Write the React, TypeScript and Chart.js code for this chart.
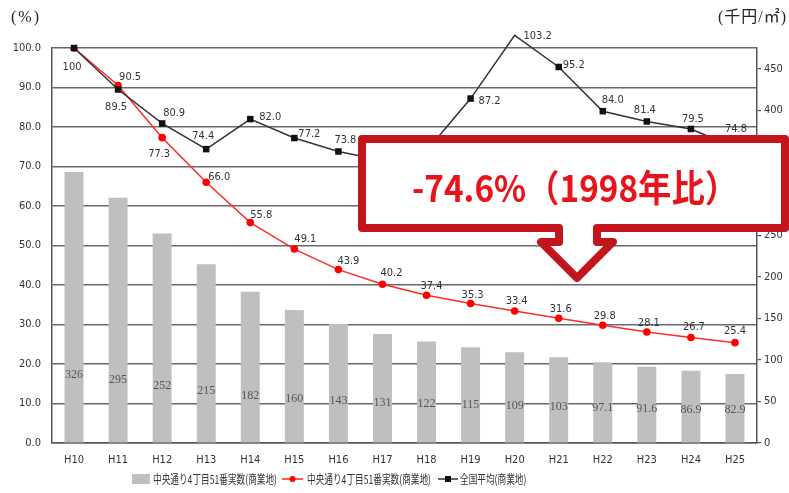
import React, { useEffect, useRef } from "react";
import { Chart, registerables } from "chart.js";

Chart.register(...registerables);

const categories = ["H10", "H11", "H12", "H13", "H14", "H15", "H16", "H17", "H18", "H19", "H20", "H21", "H22", "H23", "H24", "H25"];
const barValues = [326, 295, 252, 215, 182, 160, 143, 131, 122, 115, 109, 103, 97.1, 91.6, 86.9, 82.9];
const barLabels = ["326", "295", "252", "215", "182", "160", "143", "131", "122", "115", "109", "103", "97.1", "91.6", "86.9", "82.9"];
const redValues = [100, 90.5, 77.3, 66.0, 55.8, 49.1, 43.9, 40.2, 37.4, 35.3, 33.4, 31.6, 29.8, 28.1, 26.7, 25.4];
const blackValues = [100, 89.5, 80.9, 74.4, 82.0, 77.2, 73.8, 71.5, 74.0, 87.2, 103.2, 95.2, 84.0, 81.4, 79.5, 74.8];
const leftTicks = [0, 10, 20, 30, 40, 50, 60, 70, 80, 90, 100];
const rightTicks = [0, 50, 100, 150, 200, 250, 300, 350, 400, 450];

const legendBar = "中央通り4丁目51番実数(商業地)";
const legendRed = "中央通り4丁目51番実数(商業地)";
const legendBlack = "全国平均(商業地)";
const calloutText = "-74.6%（1998年比）";

// label placement (pixel offsets from the point)
const blackDx = [-2, -2, 12, -3, 20, 15, 7, 10, 10, 19, 23, 15, 10, -2, 2, 1];
const blackDy = [19, 18, -10, -13, -2, -4, -11, -11, -11, 3, 1, -2, -11, -11, -10, -18];
const redDx = [0, 12, -3, 13, 11, 11, 10, 9, 5, 2, 2, 2, 2, 2, 3, 0];
const redDy = [0, -8, 16, -5, -7, -10, -8, -11, -9, -8, -10, -9, -9, -9, -10, -12];

const NARROW = "'Liberation Sans Narrow', 'DejaVu Sans Condensed', 'Liberation Sans', sans-serif";
const CJK = "'Noto Sans CJK JP', 'Noto Sans', sans-serif";

const labelPlugin = {
  id: "labels",
  afterDatasetsDraw(chart: any) {
    const ctx = chart.ctx;
    const xs = chart.scales.x;
    const y = chart.scales.y;
    const y1 = chart.scales.y1;
    ctx.save();
    // bar labels
    ctx.font = "12px 'Liberation Serif', serif";
    ctx.fillStyle = "#555";
    ctx.textAlign = "center";
    ctx.textBaseline = "middle";
    barValues.forEach((v, i) => {
      const px = xs.getPixelForValue(i);
      const py = y1.getPixelForValue(25.4 + 0.173 * v);
      ctx.fillText(barLabels[i], px, py);
    });
    ctx.font = "11px " + NARROW;
    ctx.fillStyle = "#333";
    redValues.forEach((v, i) => {
      if (i === 0) return;
      const px = xs.getPixelForValue(i) + redDx[i];
      const py = y.getPixelForValue(v) + redDy[i];
      ctx.fillText(v.toFixed(1), px, py);
    });
    blackValues.forEach((v, i) => {
      const px = xs.getPixelForValue(i) + blackDx[i];
      const py = y.getPixelForValue(v) + blackDy[i];
      ctx.fillText(i === 0 ? "100" : v.toFixed(1), px, py);
    });
    ctx.restore();
  },
  afterDraw(chart: any) {
    const ctx = chart.ctx;
    ctx.save();
    // callout box + arrow
    ctx.beginPath();
    ctx.moveTo(362, 139);
    ctx.lineTo(785, 139);
    ctx.lineTo(785, 228);
    ctx.lineTo(597, 228);
    ctx.lineTo(597, 242);
    ctx.lineTo(613, 242);
    ctx.lineTo(577, 278);
    ctx.lineTo(541, 242);
    ctx.lineTo(559, 242);
    ctx.lineTo(559, 228);
    ctx.lineTo(362, 228);
    ctx.closePath();
    ctx.fillStyle = "#ffffff";
    ctx.fill();
    ctx.lineWidth = 8;
    ctx.lineJoin = "round";
    ctx.strokeStyle = "#c3161c";
    ctx.stroke();

    ctx.font = "bold 37px " + CJK;
    ctx.fillStyle = "#e8141c";
    ctx.textAlign = "left";
    ctx.textBaseline = "alphabetic";
    const w = ctx.measureText(calloutText).width;
    const sx = 326 / w;
    ctx.save();
    ctx.translate(412, 202);
    ctx.scale(sx, 1);
    ctx.fillText(calloutText, 0, 0);
    ctx.restore();

    // axis titles
    ctx.fillStyle = "#222";
    ctx.font = "16px 'Liberation Serif', 'Noto Sans CJK JP', serif";
    ctx.textBaseline = "middle";
    ctx.textAlign = "left";
    (ctx as any).letterSpacing = "2px";
    ctx.fillText("(%)", 11, 18);
    (ctx as any).letterSpacing = "1px";
    ctx.textAlign = "right";
    ctx.fillText("(千円/㎡)", 787, 18);
    (ctx as any).letterSpacing = "0px";

    // legend
    const ly = 479;
    ctx.fillStyle = "#bfbfbf";
    ctx.fillRect(132, ly - 5, 18, 10);
    ctx.strokeStyle = "#ff2020";
    ctx.lineWidth = 1.5;
    ctx.beginPath();
    ctx.moveTo(282, ly);
    ctx.lineTo(303, ly);
    ctx.stroke();
    ctx.fillStyle = "#ff0000";
    ctx.beginPath();
    ctx.arc(292.5, ly, 3, 0, Math.PI * 2);
    ctx.fill();
    ctx.strokeStyle = "#333";
    ctx.beginPath();
    ctx.moveTo(438, ly);
    ctx.lineTo(458, ly);
    ctx.stroke();
    ctx.fillStyle = "#111";
    ctx.fillRect(445, ly - 3, 6, 6);

    ctx.font = "12px " + CJK;
    ctx.fillStyle = "#333";
    ctx.textAlign = "left";
    ctx.textBaseline = "middle";
    const tw = ctx.measureText(legendBar).width;
    const lsx = 124 / tw;
    const drawSq = (t: string, x: number) => {
      ctx.save();
      ctx.translate(x, ly);
      ctx.scale(lsx, 1);
      ctx.fillText(t, 0, 0);
      ctx.restore();
    };
    drawSq(legendBar, 153);
    drawSq(legendRed, 307);
    drawSq(legendBlack, 460);
    ctx.restore();
  },
};

export default function App() {
  const ref = useRef<HTMLCanvasElement>(null);
  useEffect(() => {
    if (!ref.current) return;
    const chart = new Chart(ref.current, {
      type: "bar",
      data: {
        labels: categories,
        datasets: [
          {
            type: "line",
            label: legendBlack,
            data: blackValues,
            yAxisID: "y",
            borderColor: "#333333",
            borderWidth: 1.5,
            pointStyle: "rect",
            pointRadius: 4.6,
            pointBackgroundColor: "#111",
            pointBorderWidth: 0,
            tension: 0,
            clip: false,
            order: 0,
          } as any,
          {
            type: "line",
            label: legendRed,
            data: redValues,
            yAxisID: "y",
            borderColor: "#ff2a2a",
            borderWidth: 1.5,
            pointStyle: "circle",
            pointRadius: 3.8,
            pointBackgroundColor: "#ff0000",
            pointBorderWidth: 0,
            tension: 0,
            order: 1,
          } as any,
          {
            type: "bar",
            label: legendBar,
            data: barValues,
            yAxisID: "y1",
            backgroundColor: "#bfbfbf",
            barPercentage: 0.43,
            categoryPercentage: 1,
            order: 2,
          } as any,
        ],
      },
      options: {
        responsive: false,
        animation: false,
        layout: { padding: { left: 0, right: 0, top: 48, bottom: 28 } },
        plugins: { legend: { display: false }, tooltip: { enabled: false } },
        scales: {
          x: {
            grid: { display: false, drawTicks: false },
            border: { display: true, color: "#555", width: 1.5 },
            ticks: { font: { family: NARROW, size: 11 }, color: "#333", padding: 11, maxRotation: 0 },
            afterFit: (s: any) => { s.height = 22; },
          },
          y: {
            position: "left",
            min: 0,
            max: 100,
            afterBuildTicks: (s: any) => { s.ticks = leftTicks.map((v) => ({ value: v })); },
            ticks: {
              font: { family: NARROW, size: 11 },
              color: "#333",
              padding: 11,
              callback: (v: any) => Number(v).toFixed(1),
            },
            grid: { color: "#686868", lineWidth: 1.5, drawTicks: false },
            border: { display: true, color: "#555", width: 1.5 },
            afterFit: (s: any) => { s.width = 52; },
          },
          y1: {
            position: "right",
            min: 0,
            max: 475,
            afterBuildTicks: (s: any) => { s.ticks = rightTicks.map((v) => ({ value: v })); },
            ticks: { font: { family: NARROW, size: 11 }, color: "#333", padding: 3 },
            grid: { drawOnChartArea: false, drawTicks: true, tickLength: 4, color: "#555", lineWidth: 1.2 },
            border: { display: true, color: "#555", width: 1.5 },
            afterFit: (s: any) => { s.width = 32; },
          },
        },
      },
      plugins: [labelPlugin],
    });
    return () => chart.destroy();
  }, []);
  return (
    <div style={{ position: "absolute", left: 0, top: 0, width: 789, height: 493, background: "#fff" }}>
      <canvas ref={ref} width={789} height={493} style={{ display: "block" }} />
    </div>
  );
}
